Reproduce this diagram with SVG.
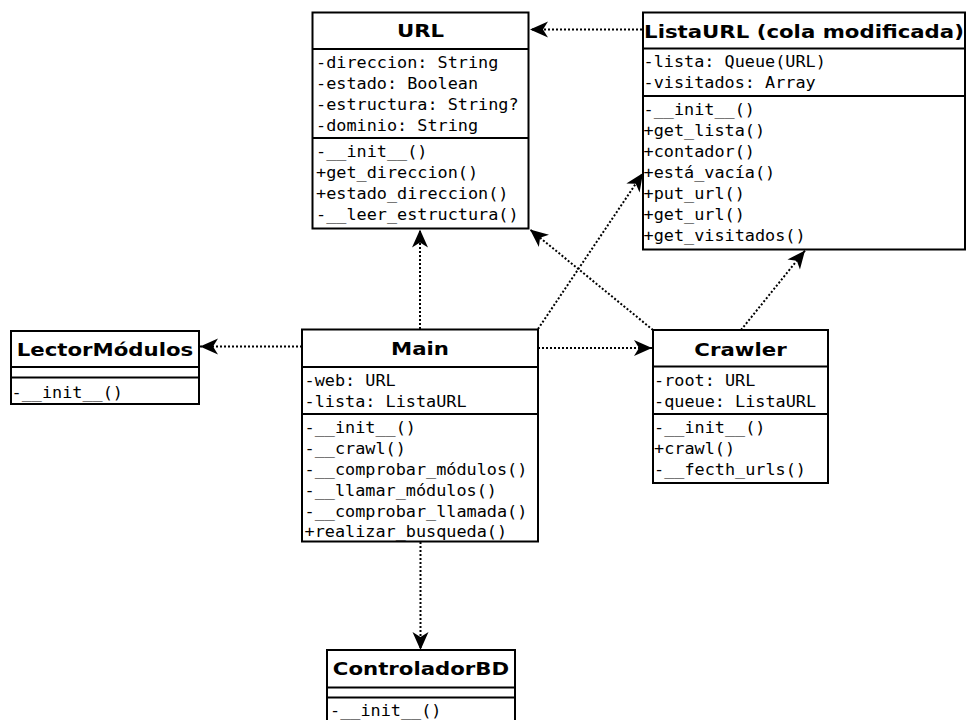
<svg xmlns="http://www.w3.org/2000/svg" width="967" height="720" viewBox="0 0 967 720">
<style>
.box{fill:#fff;stroke:#000;stroke-width:2}
.dv{stroke:#000;stroke-width:2}
.t{font-family:"DejaVu Sans","Liberation Sans",sans-serif;font-weight:bold;font-size:18.5px;text-anchor:middle;fill:#000}
.m{font-family:"DejaVu Sans Mono","Liberation Mono",monospace;font-size:15.3px;fill:#000}
.c{fill:none;stroke:#000;stroke-width:2;stroke-dasharray:2 2;marker-end:url(#ah)}
</style>
<defs>
<marker id="ah" viewBox="-19 -9 20 18" refX="0" refY="0" markerWidth="20" markerHeight="18" markerUnits="userSpaceOnUse" orient="auto">
<path d="M0,0 L-18,-8 L-13,0 L-18,8 Z" fill="#000"/>
</marker>
</defs>
<rect width="967" height="720" fill="#fff"/>

<g id="URL">
<rect class="box" x="312.5" y="12.5" width="216" height="216"/>
<line class="dv" x1="312.5" y1="49" x2="528.5" y2="49"/>
<line class="dv" x1="312.5" y1="138" x2="528.5" y2="138"/>
<text class="t" transform="translate(420.5,37) scale(1.15,1)">URL</text>
<text class="m" transform="translate(316,68.3) scale(1.1,1)">-direccion: String</text>
<text class="m" transform="translate(316,89.3) scale(1.1,1)">-estado: Boolean</text>
<text class="m" transform="translate(316,110.3) scale(1.1,1)">-estructura: String?</text>
<text class="m" transform="translate(316,131.3) scale(1.1,1)">-dominio: String</text>
<text class="m" transform="translate(316,157) scale(1.1,1)">-__init__()</text>
<text class="m" transform="translate(316,178) scale(1.1,1)">+get_direccion()</text>
<text class="m" transform="translate(316,199) scale(1.1,1)">+estado_direccion()</text>
<text class="m" transform="translate(316,220) scale(1.1,1)">-__leer_estructura()</text>
</g>

<g id="ListaURL">
<rect class="box" x="643" y="12.5" width="322" height="237"/>
<line class="dv" x1="643" y1="48.5" x2="965" y2="48.5"/>
<line class="dv" x1="643" y1="96" x2="965" y2="96"/>
<text class="t" transform="translate(804,37.5) scale(1.15,1)">ListaURL (cola modificada)</text>
<text class="m" transform="translate(643.5,67) scale(1.1,1)">-lista: Queue(URL)</text>
<text class="m" transform="translate(643.5,88) scale(1.1,1)">-visitados: Array</text>
<text class="m" transform="translate(643.5,115) scale(1.1,1)">-__init__()</text>
<text class="m" transform="translate(643.5,136) scale(1.1,1)">+get_lista()</text>
<text class="m" transform="translate(643.5,157) scale(1.1,1)">+contador()</text>
<text class="m" transform="translate(643.5,178) scale(1.1,1)">+está_vacía()</text>
<text class="m" transform="translate(643.5,199) scale(1.1,1)">+put_url()</text>
<text class="m" transform="translate(643.5,220) scale(1.1,1)">+get_url()</text>
<text class="m" transform="translate(643.5,241) scale(1.1,1)">+get_visitados()</text>
</g>

<g id="LectorModulos">
<rect class="box" x="11" y="331" width="188" height="73"/>
<line class="dv" x1="11" y1="367" x2="199" y2="367"/>
<line class="dv" x1="11" y1="377.5" x2="199" y2="377.5"/>
<text class="t" transform="translate(105,355.5) scale(1.15,1)">LectorMódulos</text>
<text class="m" transform="translate(11.5,398) scale(1.1,1)">-__init__()</text>
</g>

<g id="Main">
<rect class="box" x="302" y="329.5" width="236" height="212"/>
<line class="dv" x1="302" y1="367" x2="538" y2="367"/>
<line class="dv" x1="302" y1="414" x2="538" y2="414"/>
<text class="t" transform="translate(420,355) scale(1.15,1)">Main</text>
<text class="m" transform="translate(304.5,385.7) scale(1.1,1)">-web: URL</text>
<text class="m" transform="translate(304.5,406.7) scale(1.1,1)">-lista: ListaURL</text>
<text class="m" transform="translate(304.5,432.5) scale(1.1,1)">-__init__()</text>
<text class="m" transform="translate(304.5,453.5) scale(1.1,1)">-__crawl()</text>
<text class="m" transform="translate(304.5,474.5) scale(1.1,1)">-__comprobar_módulos()</text>
<text class="m" transform="translate(304.5,495.5) scale(1.1,1)">-__llamar_módulos()</text>
<text class="m" transform="translate(304.5,516.5) scale(1.1,1)">-__comprobar_llamada()</text>
<text class="m" transform="translate(304.5,537.3) scale(1.1,1)">+realizar_busqueda()</text>
</g>

<g id="Crawler">
<rect class="box" x="653" y="330" width="175" height="153"/>
<line class="dv" x1="653" y1="366.5" x2="828" y2="366.5"/>
<line class="dv" x1="653" y1="414" x2="828" y2="414"/>
<text class="t" transform="translate(740.5,355.5) scale(1.15,1)">Crawler</text>
<text class="m" transform="translate(654,385.7) scale(1.1,1)">-root: URL</text>
<text class="m" transform="translate(654,406.7) scale(1.1,1)">-queue: ListaURL</text>
<text class="m" transform="translate(654,433) scale(1.1,1)">-__init__()</text>
<text class="m" transform="translate(654,454) scale(1.1,1)">+crawl()</text>
<text class="m" transform="translate(654,475) scale(1.1,1)">-__fecth_urls()</text>
</g>

<g id="ControladorBD">
<rect class="box" x="327" y="650" width="188" height="80"/>
<line class="dv" x1="327" y1="687.5" x2="515" y2="687.5"/>
<line class="dv" x1="327" y1="697.5" x2="515" y2="697.5"/>
<text class="t" transform="translate(421,675.3) scale(1.15,1)">ControladorBD</text>
<text class="m" transform="translate(330,716.3) scale(1.1,1)">-__init__()</text>
</g>

<g id="connectors">
<path class="c" d="M642,29.5 L530,29.5"/>
<path class="c" d="M420,329 L420,229.5"/>
<path class="c" d="M653,330 L530,229.5"/>
<path class="c" d="M538,329 L643,173"/>
<path class="c" d="M741,330 L805,250.5"/>
<path class="c" d="M538,348 L652,348"/>
<path class="c" d="M302,346.5 L200,346.5"/>
<path class="c" d="M420.5,542 L420.5,650"/>
</g>
</svg>
